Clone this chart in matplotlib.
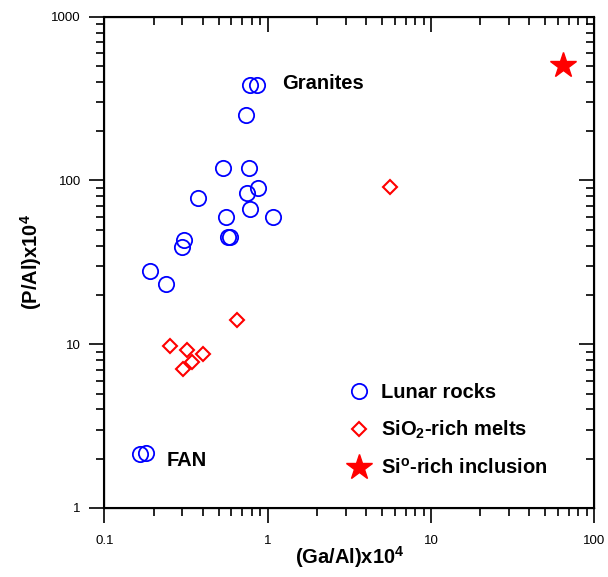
import matplotlib
matplotlib.use("Agg")
import matplotlib.pyplot as plt

plt.rcParams['font.family'] = ['Liberation Sans', 'DejaVu Sans']
plt.rcParams['mathtext.fontset'] = 'custom'
plt.rcParams['mathtext.rm'] = 'Liberation Sans:bold'
plt.rcParams['mathtext.bf'] = 'Liberation Sans:bold'
plt.rcParams['mathtext.default'] = 'bf'

# Lunar rocks (Ga/Al x1e4, P/Al x1e4)
lunar_ga = [0.778, 0.855, 0.733, 0.530, 0.772, 0.868, 0.750, 0.373, 0.783, 0.555,
            1.07, 0.571, 0.588, 0.307, 0.299, 0.190, 0.239, 0.165, 0.179]
lunar_p = [384, 384, 250, 119, 119, 89.8, 84.4, 78.3, 67.1, 60.2,
           60.2, 45.4, 45.0, 43.4, 39.3, 28.2, 23.3, 2.13, 2.16]
# SiO2-rich melts
melt_ga = [0.252, 0.319, 0.403, 0.344, 0.304, 0.646, 5.61]
melt_p = [9.8, 9.23, 8.73, 7.76, 7.07, 14.1, 91]
# Si-rich inclusion
incl_ga = [64.6]
incl_p = [504]

xticks = [0.1, 1, 10, 100]
xticklabels = ['0.1', '1', '10', '100']
yticks = [1, 10, 100, 1000]
yticklabels = ['1', '10', '100', '1000']

FS = 14.5

fig = plt.figure(figsize=(6.08, 5.77), dpi=100)
ax = fig.add_axes([0.1717, 0.1196, 0.9775 - 0.1717, 0.971 - 0.1196])
ax.set_xscale('log')
ax.set_yscale('log')
ax.set_xlim(0.1, 100)
ax.set_ylim(1, 1000)

l1, = ax.plot(lunar_ga, lunar_p, 'o', ms=11, mfc='none', mec='#0000ff', mew=1.3, ls='none',
              label='Lunar rocks', clip_on=False)
l2, = ax.plot(melt_ga, melt_p, 'D', ms=7.5, mfc='none', mec='#ff0000', mew=1.5, ls='none',
              label='SiO$_2$-rich melts', clip_on=False)
l3, = ax.plot(incl_ga, incl_p, '*', ms=19, mfc='#ff0000', mec='#ff0000', ls='none',
              label='Si$^o$-rich inclusion', clip_on=False)

ax.text(1.22, 389, 'Granites', fontsize=FS, fontweight='bold', va='center', ha='left')
ax.text(0.241, 1.94, 'FAN', fontsize=FS, fontweight='bold', va='center', ha='left')

ax.set_xticks(xticks)
ax.set_xticklabels(xticklabels)
ax.set_yticks(yticks)
ax.set_yticklabels(yticklabels)
ax.tick_params(which='both', direction='out', width=1.2, left=True, bottom=True,
               right=False, top=False)
ax.tick_params(which='major', length=11, labelsize=9.5, pad=6)
ax.tick_params(which='minor', length=6)
ax.tick_params(axis='x', which='major', pad=8.5)
for s in ax.spines.values():
    s.set_linewidth(1.5)

axt = ax.twiny()
axt.set_xscale('log'); axt.set_xlim(0.1, 100)
axt.set_xticks(xticks)
axt.tick_params(axis='x', which='both', direction='in', width=1.2, top=True, bottom=False,
                labeltop=False, labelbottom=False)
axt.tick_params(axis='x', which='major', length=11)
axt.tick_params(axis='x', which='minor', length=6)
axt.tick_params(axis='y', which='both', left=False, right=False, labelleft=False, labelright=False)

axr = ax.twinx()
axr.set_yscale('log'); axr.set_ylim(1, 1000)
axr.set_yticks(yticks)
axr.tick_params(axis='y', which='both', direction='in', width=1.2, right=True, left=False,
                labelright=False, labelleft=False)
axr.tick_params(axis='y', which='major', length=11)
axr.tick_params(axis='y', which='minor', length=6)
axr.tick_params(axis='x', which='both', top=False, bottom=False, labeltop=False, labelbottom=False)

ax.set_xlabel('(Ga/Al)x10$^4$', fontsize=FS, fontweight='bold', labelpad=-2)
ax.set_ylabel('(P/Al)x10$^4$', fontsize=FS, fontweight='bold', labelpad=5)

leg = ax.legend(handles=[l1, l2, l3], loc='upper left', bbox_to_anchor=(0.478, 0.274),
                frameon=False, prop={'weight': 'bold', 'size': FS},
                handlelength=1.0, handletextpad=0.6, labelspacing=0.82, borderpad=0)

fig.savefig('out.png', dpi=100)
